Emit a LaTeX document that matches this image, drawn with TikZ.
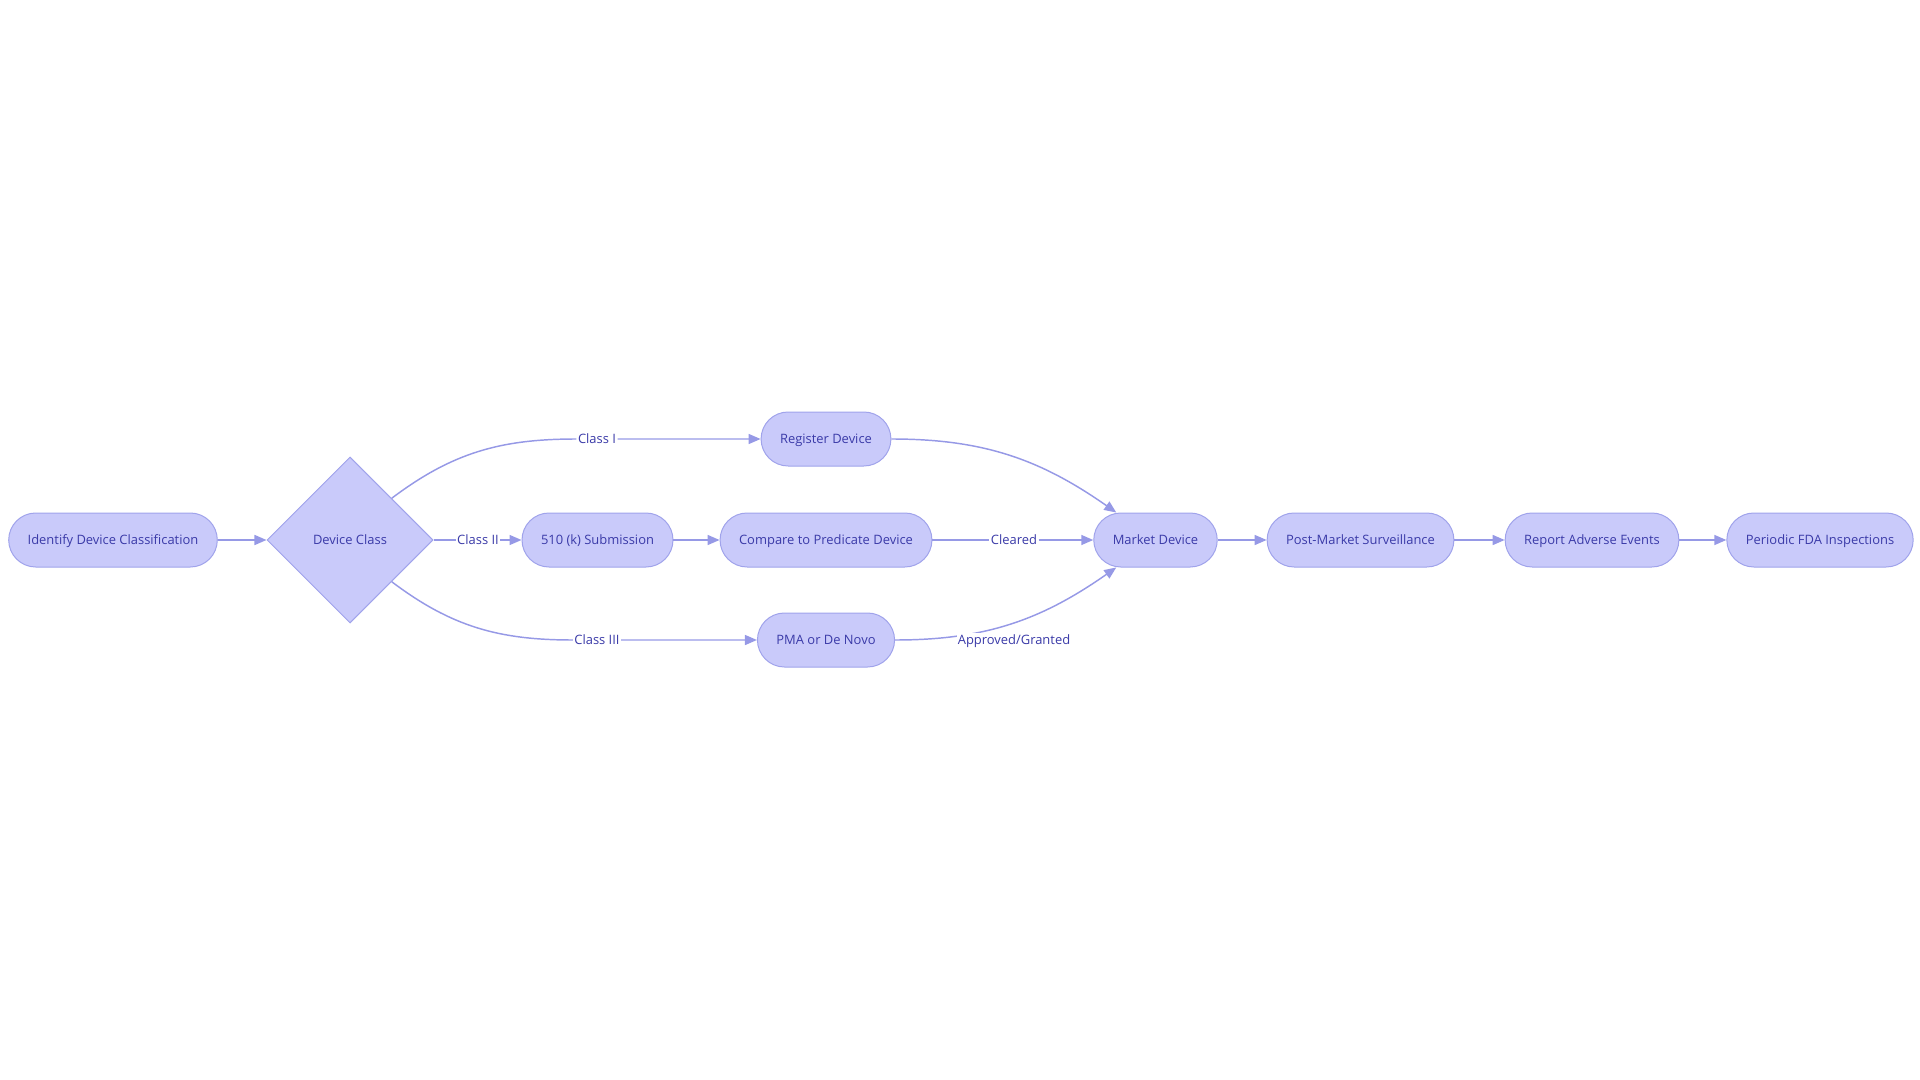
\documentclass[tikz,border=0pt]{standalone}
\usepackage{fontspec}
\setmainfont{Open Sans}
\usetikzlibrary{shapes.geometric,arrows.meta}
\definecolor{nodefill}{RGB}{201,202,250}
\definecolor{nodeline}{RGB}{160,163,235}
\definecolor{nodetext}{RGB}{58,58,168}
\definecolor{edgeline}{RGB}{150,153,230}
\tikzset{
  chartfont/.style={font=\fontsize{9.7}{12}\selectfont, text height=6.9pt, text depth=0pt},
  stadium/.style={chartfont, draw=nodeline, fill=nodefill, text=nodetext, line width=0.75pt,
    rounded corners=20.25pt, minimum height=40.5pt, inner xsep=14.25pt},
  decision/.style={chartfont, diamond, aspect=1, draw=nodeline, fill=nodefill, text=nodetext,
    line width=0.75pt, minimum size=124.5pt, inner sep=0pt},
  edgelabel/.style={chartfont, fill=white, text=nodetext, inner xsep=1pt, inner ysep=2pt},
  flow/.style={draw=edgeline, line width=1.1pt, -{Triangle[length=9pt,width=7.5pt]}}
}
\begin{document}
\begin{tikzpicture}[x=0.75pt, y=0.75pt]
      \useasboundingbox (0,0) rectangle (1920,-1080);
      \path
        (113,-540) node[stadium] (id){Identify Device Classification}
        (350,-540) node[decision] (dc){Device Class}
        (826,-439) node[stadium] (reg){Register Device}
        (597.5,-540) node[stadium] (sub){510 (k) Submission}
        (826,-540) node[stadium] (cmp){Compare to Predicate Device}
        (826,-640) node[stadium] (pma){PMA or De Novo}
        (1155.5,-540) node[stadium] (mkt){Market Device}
        (1360.5,-540) node[stadium] (post){Post-Market Surveillance}
        (1592,-540) node[stadium] (rep){Report Adverse Events}
        (1820,-540) node[stadium] (fda){Periodic FDA Inspections};
      \path
        (597,-439) node[edgelabel] (c1){Class I}
        (478,-540) node[edgelabel] (c2){Class II}
        (597,-640) node[edgelabel] (c3){Class III}
        (1014,-540) node[edgelabel] (clr){Cleared};
      \begin{scope}[flow]
        \draw (id) -- (dc);
        \draw (dc.north east) to[out=37,in=180] (c1) -- (reg);
        \draw (dc) -- (c2) -- (sub);
        \draw (dc.south east) to[out=-37,in=180] (c3) -- (pma);
        \draw (sub) -- (cmp);
        \draw (cmp) -- (clr) -- (mkt);
        \draw (reg) to[out=0,in=145] (mkt);
        \draw (pma) to[out=0,in=215] (mkt);
        \draw (mkt) -- (post);
        \draw (post) -- (rep);
        \draw (rep) -- (fda);
      \end{scope}
      \node[edgelabel] (apg) at (1014,-640) {Approved/Granted};
    \end{tikzpicture}
\end{document}
